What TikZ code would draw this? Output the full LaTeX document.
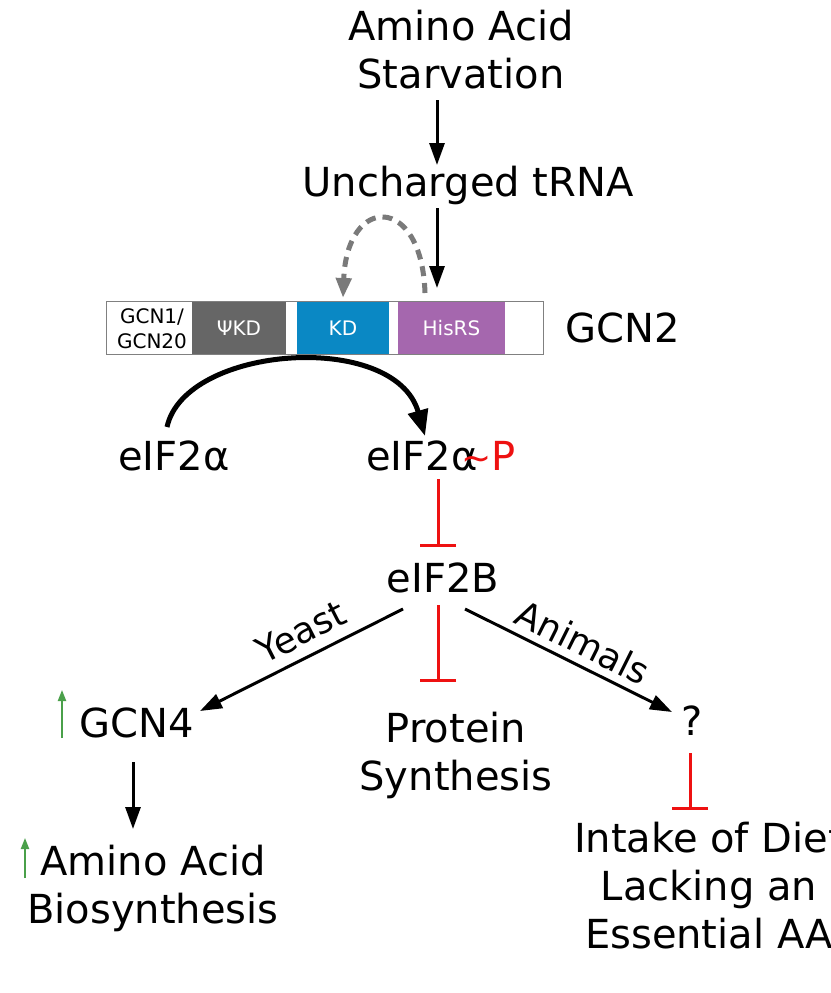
\documentclass[tikz,border=0pt]{standalone}
\usepackage{fontspec}
\setmainfont{DejaVu Sans}
\usetikzlibrary{arrows.meta}
\definecolor{kdblue}{HTML}{0A88C4}
\definecolor{hispurple}{HTML}{A567AE}
\definecolor{psigrey}{HTML}{666666}
\definecolor{dashgrey}{HTML}{7A7A7A}
\definecolor{bordergrey}{HTML}{808080}
\definecolor{inhred}{HTML}{EE1111}
\definecolor{upgreen}{HTML}{4AA04A}
\begin{document}
\begin{tikzpicture}[x=1pt,y=-1pt,
  big/.style={font=\fontsize{40pt}{48pt}\selectfont, align=center, inner sep=0pt, anchor=base},
  lab/.style={font=\fontsize{36pt}{44pt}\selectfont, inner sep=0pt},
  small/.style={font=\fontsize{20pt}{25pt}\selectfont, align=center, inner sep=0pt},
  seg/.style={font=\fontsize{20pt}{25pt}\selectfont, text=white, inner sep=0pt, minimum height=52pt},
  arr/.style={line width=3pt, -{Triangle[length=22pt,width=15pt]}},
  bigarr/.style={line width=5pt, -{Triangle[length=26pt,width=20pt]}},
  dasharr/.style={line width=5pt, draw=dashgrey, dash pattern=on 10pt off 7pt, -{Triangle[length=20pt,width=15pt]}},
  inh/.style={line width=3pt, draw=inhred, -{Bar[width=36pt]}},
  up/.style={line width=2pt, draw=upgreen, -{Triangle[length=11pt,width=8pt]}}
]
\fill[white] (0,0) rectangle (830,993);
\useasboundingbox (0,0) rectangle (830,993);

% text nodes (multi-line nodes are placed at the baseline of their last line)
\node[big] (aas) at (461,88) {Amino Acid\\Starvation};
\node[big] (trna) at (468,196) {Uncharged tRNA};
\node[big] (gcn2) at (623,342) {GCN2};
\node[big] (eif) at (174,470) {eIF2α};
\node[big, anchor=base west] (eifp) at (366,470) {eIF2α{\color{inhred}\kern-16pt{\fontsize{36pt}{36pt}\selectfont\textasciitilde}\kern0pt P}};
\node[big] (eif2b) at (443,592) {eIF2B};
\node[big] (gcn4) at (137,737) {GCN4};
\node[big] (q) at (692,735) {?};
\node[big] (prot) at (456,790) {Protein\\Synthesis};
\node[big] (aab) at (153,923) {Amino Acid\\Biosynthesis};
\node[big] (diet) at (709,948) {Intake of Diet\\Lacking an\\Essential AA};
\node[lab, rotate=27] (yeast) at (301,632) {Yeast};
\node[lab, rotate=-26.5] (animals) at (583,642) {Animals};

% GCN2 domain bar
\node[minimum width=436pt, minimum height=52pt, inner sep=0pt, fill=white] (bar) at (325,328) {};
\node[seg, fill=psigrey, minimum width=94pt] (psikd) at (239,328) {ΨKD};
\node[seg, fill=kdblue, minimum width=92pt] (kd) at (343,328) {KD};
\node[seg, fill=hispurple, minimum width=107pt] (his) at (451.5,328) {HisRS};
\node[small] (gcn1) at (152,329) {GCN1/\\GCN20};
\draw[bordergrey, line width=1.2pt] (bar.north west) rectangle (bar.south east);

% connector end points
\coordinate (a1s) at (437,100);
\coordinate (a1e) at (437,165);
\coordinate (a2s) at (437,208);
\coordinate (a2e) at (437,288);
\coordinate (ds) at (425,293);
\coordinate (de) at (343,298);
\coordinate (cs) at (167,427);
\coordinate (ce) at (425,436);
\coordinate (i1s) at (438,479);
\coordinate (i1e) at (438,547);
\coordinate (i2s) at (438,605);
\coordinate (i2e) at (438,682);
\coordinate (i3s) at (690,753);
\coordinate (i3e) at (690,810);
\coordinate (ys) at (403,609);
\coordinate (ye) at (200,711);
\coordinate (ans) at (465,609);
\coordinate (ane) at (672,712);
\coordinate (g4s) at (133,762);
\coordinate (g4e) at (133,829);
\coordinate (u1s) at (62,738);
\coordinate (u1e) at (62,690);
\coordinate (u2s) at (25,878);
\coordinate (u2e) at (25,838);

\draw[arr] (a1s) -- (a1e);
\draw[arr] (a2s) -- (a2e);
\draw[dasharr] (ds) .. controls (422,194) and (347,194) .. (de);
\draw[bigarr] (cs) .. controls (185,345) and (395,330) .. (ce);
\draw[inh] (i1s) -- (i1e);
\draw[inh] (i2s) -- (i2e);
\draw[inh] (i3s) -- (i3e);
\draw[arr] (ys) -- (ye);
\draw[arr] (ans) -- (ane);
\draw[arr] (g4s) -- (g4e);
\draw[up] (u1s) -- (u1e);
\draw[up] (u2s) -- (u2e);
\end{tikzpicture}
\end{document}
